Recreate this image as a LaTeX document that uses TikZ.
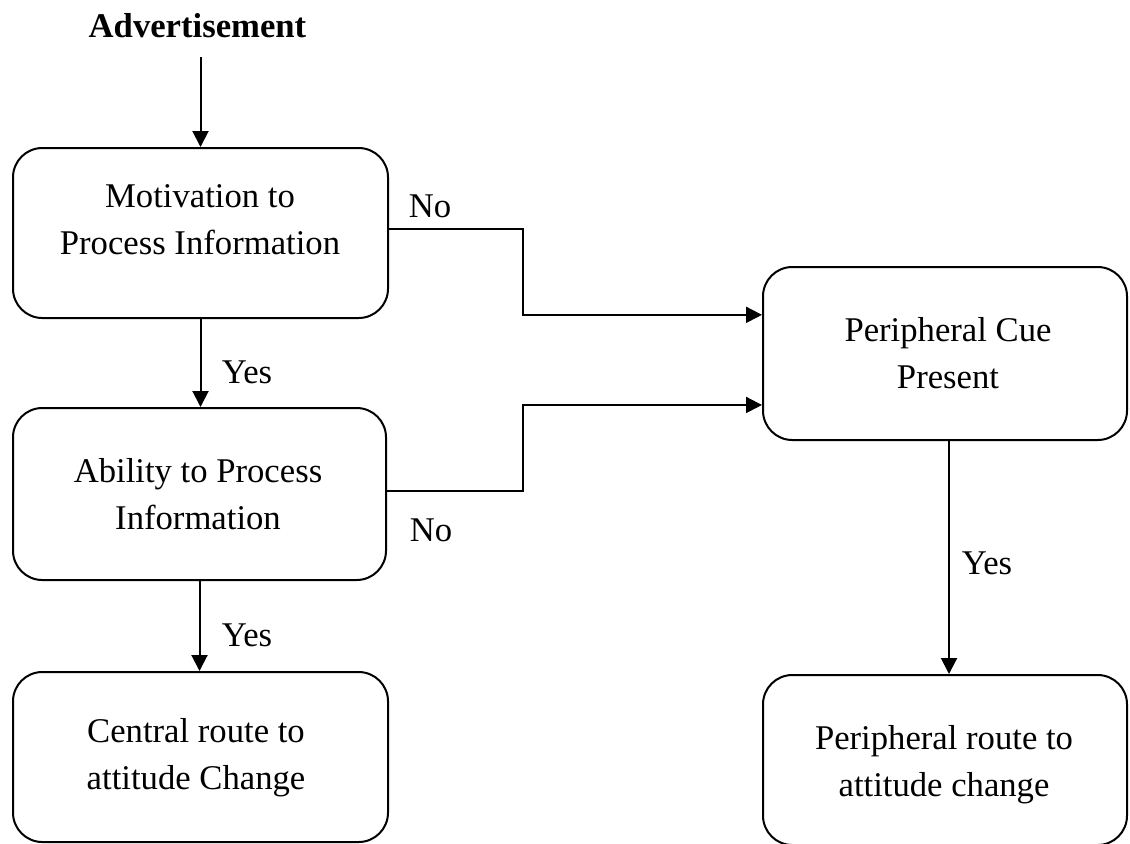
\documentclass[tikz,border=0pt]{standalone}
\usepackage{fontspec}
\setmainfont{Liberation Serif}
\usetikzlibrary{arrows.meta}
\begin{document}
% 1 unit = 1 px of a 1130 x 843 canvas, y grows downwards
\begin{tikzpicture}[x=0.75pt,y=-0.75pt,
  stagebox/.style 2 args={draw=black, line width=1.5pt, rounded corners=22pt,
    minimum width=#1, minimum height=#2, inner sep=0pt},
  stagetext/.style={inner sep=0pt, font=\fontsize{26}{35.25}\selectfont},
  lbl/.style={inner sep=0pt, font=\fontsize{26}{31}\selectfont},
  flow/.style={draw=black, line width=1.5pt, -{Triangle[length=12pt,width=12pt]}}
]
\useasboundingbox (0,0) rectangle (1130,843);

% boxes
\node[stagebox={281.25pt}{127.5pt}] (m) at (200.5,233) {};
\node[stagebox={279.75pt}{129pt}]   (a) at (199.5,494) {};
\node[stagebox={281.25pt}{127.5pt}] (c) at (200.5,757) {};
\node[stagebox={273pt}{129.75pt}]   (p) at (945,353.5) {};
\node[stagebox={273pt}{127.5pt}]    (r) at (945,760) {};

% box texts
\node[stagetext] (mt) at (200,222) {\begin{tabular}{@{}c@{}}Motivation to\\Process Information\end{tabular}};
\node[stagetext] (at) at (198,497) {\begin{tabular}{@{}c@{}}Ability to Process\\Information\end{tabular}};
\node[stagetext] (ct) at (196,757) {\begin{tabular}{@{}c@{}}Central route to\\attitude Change\end{tabular}};
\node[stagetext] (pt) at (948,356) {\begin{tabular}{@{}c@{}}Peripheral Cue\\Present\end{tabular}};
\node[stagetext] (rt) at (944,764) {\begin{tabular}{@{}c@{}}Peripheral route to\\attitude change\end{tabular}};

% title
\node[lbl, font=\fontsize{26}{31}\selectfont\bfseries] (adv) at (197.5,26) {Advertisement};

% connectors
\draw[flow, shorten <=14pt] (adv.south -| m.north) -- (m.north);
\draw[flow] (m.south) -- (m.south |- a.north);
\draw[flow] (a.south) -- (a.south |- c.north);
\draw[flow] ([yshift=3pt]m.east) -- ++(134,0) |- ([yshift=29pt]p.west);
\draw[flow] ([yshift=2.25pt]a.east) -- ++(136,0) |- ([yshift=-38.6pt]p.west);
\draw[flow] ([xshift=3pt]p.south) -- ([xshift=3pt]p.south |- r.north);

% branch labels
\node[lbl] (yes1) at (247,372) {Yes};
\node[lbl] (yes2) at (247,635) {Yes};
\node[lbl] (yes3) at (987,563) {Yes};
\node[lbl] (no1)  at (430,206) {No};
\node[lbl] (no2)  at (431,530) {No};
\end{tikzpicture}
\end{document}
